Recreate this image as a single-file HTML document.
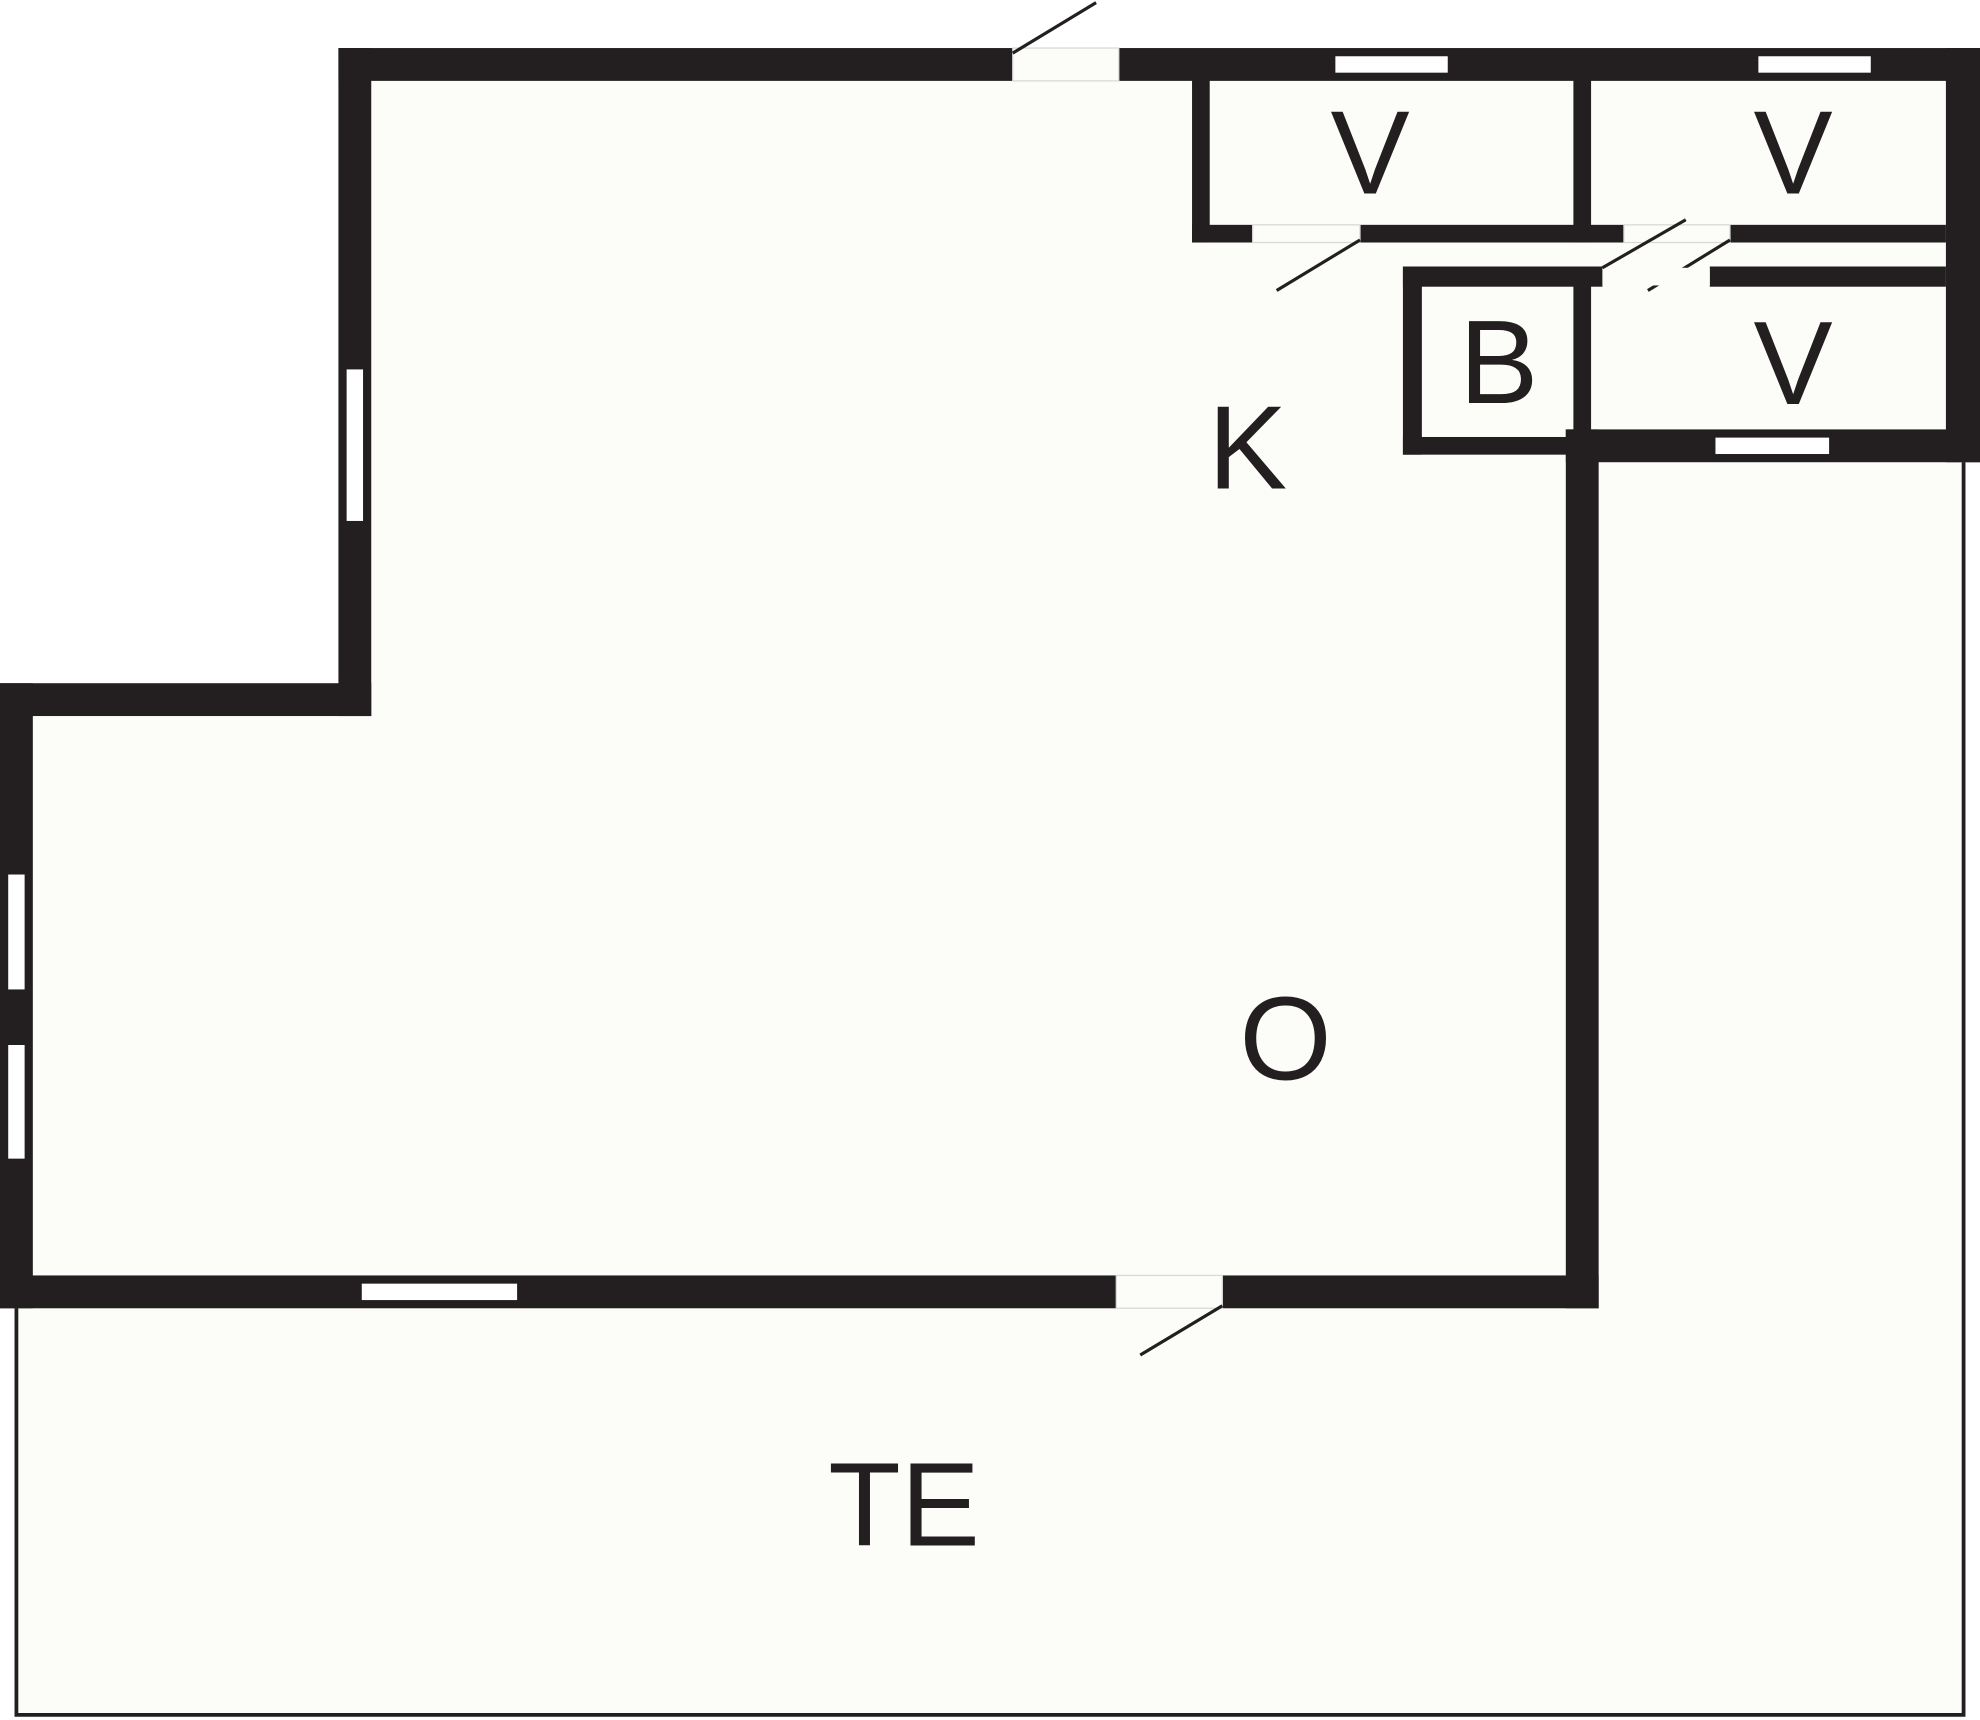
<!DOCTYPE html>
<html><head><style>html,body{margin:0;padding:0;background:#fff}svg{display:block}</style></head><body>
<svg width="1980" height="1720" viewBox="0 0 1568 1362" xmlns="http://www.w3.org/2000/svg" font-family="Liberation Sans, sans-serif" fill="#231f20">
<rect x="0" y="0" width="1568" height="1362" fill="#fff"/>
<g fill="#fcfdf8">
<polygon points="268,38 1568,38 1568,366 1555,366 1555,1360 12,1360 12,1036 0,1036 0,541 268,541"/>
</g>
<polyline points="13,1036 13,1358 1555,1358 1555,366" fill="none" stroke="#231f20" stroke-width="3"/>
<g fill="#231f20">
<rect x="268" y="38" width="534" height="26"/>
<rect x="886" y="38" width="682" height="26"/>
<rect x="268" y="38" width="26" height="529"/>
<rect x="0" y="541" width="294" height="26"/>
<rect x="0" y="541" width="26" height="495"/>
<rect x="0" y="1010" width="884" height="26"/>
<rect x="968" y="1010" width="298" height="26"/>
<rect x="1240" y="340" width="26" height="696"/>
<rect x="1541" y="38" width="27" height="328"/>
<rect x="1240" y="340" width="328" height="26"/>
<rect x="944" y="60" width="14" height="132"/>
<rect x="944" y="178" width="48" height="14"/>
<rect x="1077" y="178" width="209" height="14"/>
<rect x="1246" y="60" width="14" height="132"/>
<rect x="1246" y="211" width="14" height="139"/>
<rect x="1370" y="178" width="171" height="14"/>
<rect x="1111" y="211" width="158" height="16"/>
<rect x="1354" y="211" width="187" height="16"/>
<rect x="1111" y="211" width="15" height="149"/>
<rect x="1111" y="346" width="135" height="14"/>
</g>
<g fill="#fcfdf8" stroke="#d8d8d8" stroke-width="1">
<rect x="802" y="38" width="84" height="26"/>
<rect x="884" y="1010" width="84" height="26"/>
<rect x="992" y="178" width="85" height="14"/>
<rect x="1286" y="178" width="84" height="14"/>
</g>
<g fill="#fff" stroke="#231f20" stroke-width="1">
<rect x="1057" y="44" width="90" height="14"/>
<rect x="1392" y="44" width="90" height="14"/>
<rect x="274" y="292" width="14" height="121"/>
<rect x="6" y="692" width="14" height="92"/>
<rect x="6" y="827" width="14" height="91"/>
<rect x="286" y="1016" width="124" height="14"/>
<rect x="1358" y="346" width="91" height="14"/>
</g>
<g stroke="#231f20" stroke-width="2.5" fill="none">
<line x1="802" y1="42" x2="868" y2="2"/>
<line x1="968" y1="1034" x2="903" y2="1073"/>
<line x1="1077" y1="190" x2="1011" y2="230"/>
<line x1="1370" y1="190" x2="1305" y2="230"/>
</g>
<rect x="1269" y="212" width="85" height="14" fill="#fcfdf8"/>
<line x1="1269" y1="212" x2="1335" y2="174" stroke="#231f20" stroke-width="2.5"/>
<g font-size="94" text-anchor="middle">
<text x="1085" y="153">V</text>
<text x="1420" y="153">V</text>
<text x="1420" y="320">V</text>
<text x="1187" y="319">B</text>
<text x="988" y="387">K</text>
<text x="1018" y="855">O</text>
<text x="716" y="1224">TE</text>
</g>
</svg>
</body></html>
